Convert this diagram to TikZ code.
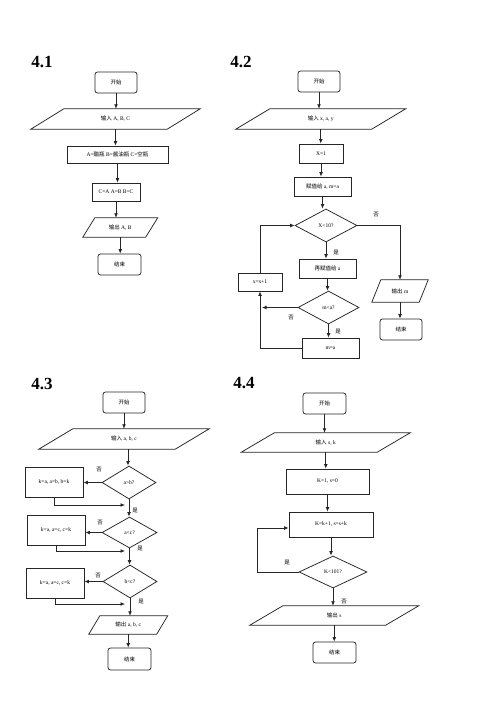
\documentclass[tikz,border=0pt]{standalone}
\usepackage{fontspec}
\setmainfont{Liberation Serif}
\newfontfamily\cjk{Noto Sans CJK SC}
\usetikzlibrary{shapes.geometric,arrows.meta}
\newcommand\paraout[2]{\draw[line] ([xshift=#2]#1.north west) -- ([xshift=#2]#1.north east) -- ([xshift=-#2]#1.south east) -- ([xshift=-#2]#1.south west) -- cycle;}
\begin{document}
\begin{tikzpicture}[x=1pt,y=-1pt,
  line/.style={draw=black!85, line width=0.75pt},
  arr/.style={line, -{Latex[length=4.5pt,width=3.8pt]}},
  txt/.style={font=\fontsize{5.5}{6.5}\selectfont, inner sep=0pt},
  ttl/.style={font=\fontsize{17}{17}\selectfont\bfseries, inner sep=0pt},
  term/.style 2 args={txt, line, rounded corners=2.5pt, minimum width=#1, minimum height=#2},
  proc/.style 2 args={txt, line, minimum width=#1, minimum height=#2},
  io/.style 2 args={txt, minimum width=#1, minimum height=#2},
  dec/.style 2 args={txt, line, diamond, minimum width=#1, minimum height=#2}]
\fill[white] (0,0) rectangle (500,708);
\useasboundingbox (0,0) rectangle (500,708);

% ---------------- 4.1
\node[ttl] (t1) at (42,62) {4.1};
\node[term={42pt}{21pt}] (s1) at (116,82.5) {\cjk 开始};
\node[io={136pt}{20pt}] (i1) at (115.5,119) {{\cjk 输入} A, B, C};
\paraout{i1}{16.5pt}
\node[proc={101pt}{17pt}] (b1) at (117.5,154.5) {A={\cjk 醋瓶} B={\cjk 酱油瓶} C={\cjk 空瓶}};
\node[proc={48pt}{18pt}] (b2) at (116,192) {C=A A=B B=C};
\node[io={62.5pt}{19pt}] (o1) at (120.25,227.5) {{\cjk 输出} A, B};
\paraout{o1}{6pt}
\node[term={43pt}{21pt}] (e1) at (119.5,264.5) {\cjk 结束};
\draw[arr] (s1.south) -- (s1.south |- i1.north);
\draw[arr] (i1.south) -- (i1.south |- b1.north);
\draw[arr] (b1.south) -- (b1.south |- b2.north);
\draw[arr] (b2.south) -- (b2.south |- o1.north);
\draw[arr] (o1.south) -- (o1.south |- e1.north);

% ---------------- 4.2
\node[ttl] (t2) at (241,62) {4.2};
\node[term={42pt}{21pt}] (s2) at (319,81.5) {\cjk 开始};
\node[io={135.5pt}{20pt}] (i2) at (320.75,119) {{\cjk 输入} x, a, y};
\paraout{i2}{17pt}
\node[proc={44pt}{19pt}] (b3) at (321,153.5) {X=1};
\node[proc={57pt}{19pt}] (b4) at (322.5,186.5) {{\cjk 赋值给} a, m=a};
\node[dec={62pt}{33pt}] (d1) at (326,225.5) {X<10?};
\node[proc={57pt}{19pt}] (b5) at (327.5,268.5) {{\cjk 再赋值给} a};
\node[dec={61pt}{33pt}] (d2) at (328.5,307.5) {m<a?};
\node[proc={57pt}{20pt}] (b6) at (330.5,348) {m=a};
\node[proc={44pt}{18pt}] (b7) at (260,282) {x=x+1};
\node[io={47pt}{22pt}] (o2) at (400,291) {{\cjk 输出} m};
\paraout{o2}{4.5pt}
\node[term={42pt}{21pt}] (e2) at (401,329.5) {\cjk 结束};
\node[txt] (l1) at (376,215) {\cjk 否};
\node[txt] (l2) at (336,253) {\cjk 是};
\node[txt] (l3) at (291,318) {\cjk 否};
\node[txt] (l4) at (338,332) {\cjk 是};
\draw[arr] (s2.south) -- (s2.south |- i2.north);
\draw[arr] (i2.south) -- (i2.south |- b3.north);
\draw[arr] (b3.south) -- (b3.south |- b4.north);
\draw[arr] (b4.south) -- (b4.south |- d1.north);
\draw[arr] (d1.south) -- (d1.south |- b5.north);
\draw[arr] (b5.south) -- (b5.south |- d2.north);
\draw[arr] (d2.south) -- (d2.south |- b6.north);
\draw[arr] (d1.east) -| (o2.north);
\draw[arr] (o2.south) -- (o2.south |- e2.north);
\draw[arr] (d2.west) -- ([xshift=2pt]d2.west -| b7.south);
\draw[arr] (b6.west) -| (b7.south);
\draw[arr] (b7.north) |- (d1.west);

% ---------------- 4.3
\node[ttl] (t3) at (42,384) {4.3};
\node[term={42pt}{21pt}] (s3) at (124,402.5) {\cjk 开始};
\node[io={136pt}{20pt}] (i3) at (124,439) {{\cjk 输入} a, b, c};
\paraout{i3}{17pt}
\node[dec={54pt}{33pt}] (d3) at (129,482.5) {a>b?};
\node[proc={58pt}{30pt}] (k1) at (54,482) {k=a, a=b, b=k};
\node[dec={55pt}{31pt}] (d4) at (129.5,532.5) {a<c?};
\node[proc={58pt}{30pt}] (k2) at (56,530) {k=a, a=c, c=k};
\node[dec={54pt}{33pt}] (d5) at (130,581.5) {b<c?};
\node[proc={58pt}{30pt}] (k3) at (55,583) {k=a, a=c, c=k};
\node[io={67.5pt}{18pt}] (o3) at (128.25,625) {{\cjk 输出} a, b, c};
\paraout{o3}{5.5pt}
\node[term={43pt}{22pt}] (e3) at (129.5,659) {\cjk 结束};
\coordinate (m1) at (125,505);
\coordinate (m2) at (125,551);
\coordinate (m3) at (125,604);
\node[txt] (l5) at (99,470) {\cjk 否};
\node[txt] (l6) at (100,523) {\cjk 否};
\node[txt] (l7) at (98,576) {\cjk 否};
\node[txt] (l8) at (135,511) {\cjk 是};
\node[txt] (l9) at (140,549) {\cjk 是};
\node[txt] (l10) at (141,602) {\cjk 是};
\draw[arr] (s3.south) -- (s3.south |- i3.north);
\draw[arr] ([xshift=4pt]i3.south) -- ([xshift=4pt]i3.south |- d3.north);
\draw[arr] (d3.south) -- (d3.south |- d4.north);
\draw[arr] (d4.south) -- (d4.south |- d5.north);
\draw[arr] (d5.south) -- (d5.south |- o3.north);
\draw[arr] (o3.south) -- (o3.south |- e3.north);
\draw[arr] (d3.west) -- (d3.west -| k1.east);
\draw[arr] (d4.west) -- (d4.west -| k2.east);
\draw[arr] (d5.west) -- (d5.west -| k3.east);
\draw[arr] (k1.south) |- (m1);
\draw[arr] (k2.south) |- (m2);
\draw[arr] (k3.south) |- (m3);

% ---------------- 4.4
\node[ttl] (t4) at (244,383) {4.4};
\node[term={43pt}{21pt}] (s4) at (324.5,403.5) {\cjk 开始};
\node[io={135.5pt}{19pt}] (i4) at (325.75,442.5) {{\cjk 输入} s, k};
\paraout{i4}{16.5pt}
\node[proc={83pt}{25pt}] (b8) at (327.5,481.5) {K=1, s=0};
\node[proc={84pt}{25pt}] (b9) at (331,524.5) {K=k+1, s=s+k};
\node[dec={68pt}{32pt}] (d6) at (333,572) {K<101?};
\node[io={135.5pt}{19pt}] (o4) at (334.25,615.5) {{\cjk 输出} s};
\paraout{o4}{16.5pt}
\node[term={43pt}{21pt}] (e4) at (334.5,652.5) {\cjk 结束};
\coordinate (c4) at (257,528);
\node[txt] (l11) at (287,563) {\cjk 是};
\node[txt] (l12) at (344,602) {\cjk 否};
\draw[arr] (s4.south) -- (s4.south |- i4.north);
\draw[arr] (i4.south) -- (i4.south |- b8.north);
\draw[arr] (b8.south) -- (b8.south |- b9.north);
\draw[arr] (b9.south) -- (b9.south |- d6.north);
\draw[arr] (d6.south) -- (d6.south |- o4.north);
\draw[arr] (o4.south) -- (o4.south |- e4.north);
\draw[arr] (d6.west) -- (d6.west -| c4) -- (c4) -- (c4 -| b9.west);
\end{tikzpicture}
\end{document}
